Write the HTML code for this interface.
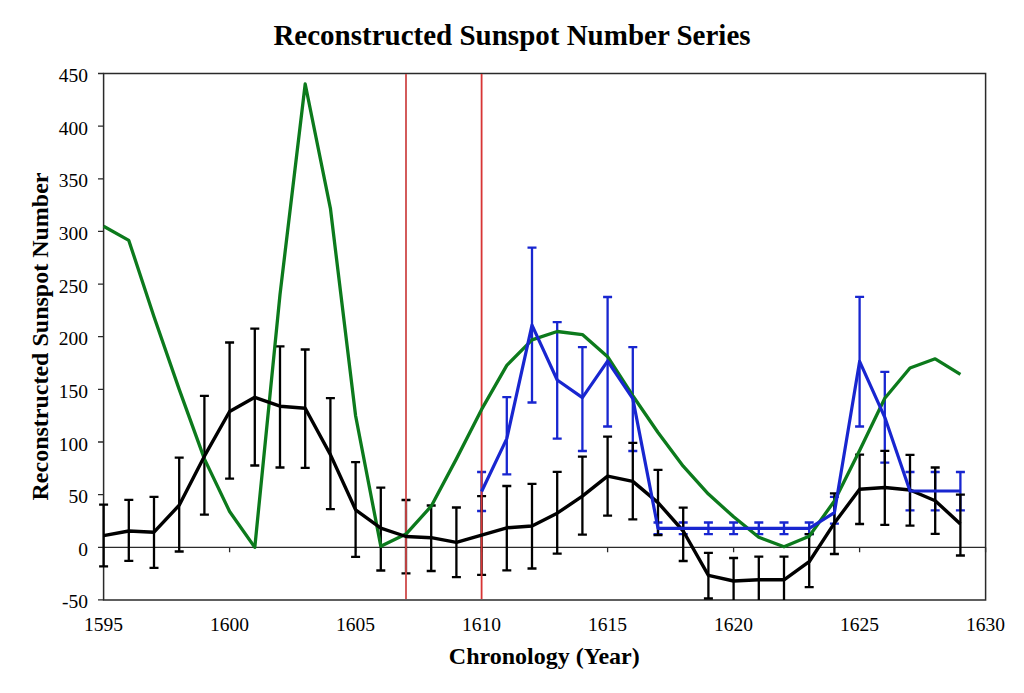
<!DOCTYPE html>
<html><head><meta charset="utf-8"><title>Reconstructed Sunspot Number Series</title>
<style>html,body{margin:0;padding:0;background:#fff;}svg{display:block;}body{width:1024px;height:693px;overflow:hidden;font-family:"Liberation Serif",serif;}</style>
</head><body>
<svg width="1024" height="693" viewBox="0 0 1024 693">
<defs><clipPath id="pc"><rect x="90" y="73.5" width="910" height="526.4"/></clipPath></defs>
<rect width="1024" height="693" fill="#fff"/>
<path d="M103.6,73.5H985.6V599.9H103.6Z" fill="none" stroke="#2a2a2a" stroke-width="1.5"/>
<path d="M98,599.9H103.6 M98,547.3H103.6 M98,494.7H103.6 M98,442.0H103.6 M98,389.4H103.6 M98,336.7H103.6 M98,284.1H103.6 M98,231.4H103.6 M98,178.8H103.6 M98,126.1H103.6 M98,73.5H103.6 M103.6,547.3H985.6 M229.6,547.3V552.3 M355.6,547.3V552.3 M481.6,547.3V552.3 M607.6,547.3V552.3 M733.6,547.3V552.3 M859.6,547.3V552.3 M985.6,547.3V552.3" fill="none" stroke="#2a2a2a" stroke-width="1.3"/>
<g clip-path="url(#pc)">
<path d="M481.6,472.0V511.0 M477.1,472.0H486.1 M477.1,511.0H486.1 M506.8,397.2V474.3 M502.3,397.2H511.3 M502.3,474.3H511.3 M532.0,247.6V402.5 M527.5,247.6H536.5 M527.5,402.5H536.5 M557.2,322.2V438.6 M552.7,322.2H561.7 M552.7,438.6H561.7 M582.4,347.2V451.0 M577.9,347.2H586.9 M577.9,451.0H586.9 M607.6,297.0V426.5 M603.1,297.0H612.1 M603.1,426.5H612.1 M632.8,347.2V451.0 M628.3,347.2H637.3 M628.3,451.0H637.3 M658.0,522.5V534.2 M653.5,522.5H662.5 M653.5,534.2H662.5 M683.2,522.5V534.2 M678.7,522.5H687.7 M678.7,534.2H687.7 M708.4,522.5V534.2 M703.9,522.5H712.9 M703.9,534.2H712.9 M733.6,522.5V534.2 M729.1,522.5H738.1 M729.1,534.2H738.1 M758.8,522.5V534.2 M754.3,522.5H763.3 M754.3,534.2H763.3 M784.0,522.5V534.2 M779.5,522.5H788.5 M779.5,534.2H788.5 M809.2,522.5V534.2 M804.7,522.5H813.7 M804.7,534.2H813.7 M834.4,496.8V523.6 M829.9,496.8H838.9 M829.9,523.6H838.9 M859.6,296.9V426.5 M855.1,296.9H864.1 M855.1,426.5H864.1 M884.8,371.9V462.6 M880.3,371.9H889.3 M880.3,462.6H889.3 M910.0,472.0V510.4 M905.5,472.0H914.5 M905.5,510.4H914.5 M935.2,472.0V510.4 M930.7,472.0H939.7 M930.7,510.4H939.7 M960.4,472.0V510.4 M955.9,472.0H964.9 M955.9,510.4H964.9" fill="none" stroke="#1826d0" stroke-width="2.3"/>
<path d="M103.6,504.7V566.3 M99.1,504.7H108.1 M99.1,566.3H108.1 M128.8,499.9V560.8 M124.3,499.9H133.3 M124.3,560.8H133.3 M154.0,496.8V567.8 M149.5,496.8H158.5 M149.5,567.8H158.5 M179.2,457.6V551.5 M174.7,457.6H183.7 M174.7,551.5H183.7 M204.4,395.9V514.7 M199.9,395.9H208.9 M199.9,514.7H208.9 M229.6,342.5V478.7 M225.1,342.5H234.1 M225.1,478.7H234.1 M254.8,328.7V465.5 M250.3,328.7H259.3 M250.3,465.5H259.3 M280.0,346.4V467.5 M275.5,346.4H284.5 M275.5,467.5H284.5 M305.2,349.5V467.9 M300.7,349.5H309.7 M300.7,467.9H309.7 M330.4,398.2V509.1 M325.9,398.2H334.9 M325.9,509.1H334.9 M355.6,462.2V556.9 M351.1,462.2H360.1 M351.1,556.9H360.1 M380.8,487.7V570.5 M376.3,487.7H385.3 M376.3,570.5H385.3 M406.0,500.0V573.3 M401.5,500.0H410.5 M401.5,573.3H410.5 M431.2,505.5V571.0 M426.7,505.5H435.7 M426.7,571.0H435.7 M456.4,507.5V577.2 M451.9,507.5H460.9 M451.9,577.2H460.9 M481.6,496.1V574.8 M477.1,496.1H486.1 M477.1,574.8H486.1 M506.8,486.0V570.4 M502.3,486.0H511.3 M502.3,570.4H511.3 M532.0,483.9V568.5 M527.5,483.9H536.5 M527.5,568.5H536.5 M557.2,471.8V553.7 M552.7,471.8H561.7 M552.7,553.7H561.7 M582.4,456.6V534.7 M577.9,456.6H586.9 M577.9,534.7H586.9 M607.6,436.7V515.6 M603.1,436.7H612.1 M603.1,515.6H612.1 M632.8,442.9V519.3 M628.3,442.9H637.3 M628.3,519.3H637.3 M658.0,469.9V535.1 M653.5,469.9H662.5 M653.5,535.1H662.5 M683.2,507.6V561.0 M678.7,507.6H687.7 M678.7,561.0H687.7 M708.4,552.9V598.5 M703.9,552.9H712.9 M703.9,598.5H712.9 M733.6,558.0V600.0 M729.1,558.0H738.1 M758.8,556.6V600.0 M754.3,556.6H763.3 M784.0,556.6V600.0 M779.5,556.6H788.5 M809.2,534.2V587.2 M804.7,534.2H813.7 M804.7,587.2H813.7 M834.4,493.4V554.0 M829.9,493.4H838.9 M829.9,554.0H838.9 M859.6,454.6V524.0 M855.1,454.6H864.1 M855.1,524.0H864.1 M884.8,450.9V524.8 M880.3,450.9H889.3 M880.3,524.8H889.3 M910.0,454.8V525.6 M905.5,454.8H914.5 M905.5,525.6H914.5 M935.2,467.5V533.9 M930.7,467.5H939.7 M930.7,533.9H939.7 M960.4,494.7V555.5 M955.9,494.7H964.9 M955.9,555.5H964.9" fill="none" stroke="#000" stroke-width="2.3"/>
<path d="M406.0,74V599" stroke="#cf4a4a" stroke-width="1.8"/>
<path d="M481.6,74V599" stroke="#d83434" stroke-width="1.8"/>
<polyline points="103.6,226.2 128.8,240.4 154.0,316.7 179.2,389.4 204.4,458.9 229.6,511.5 254.8,547.3 280.0,294.6 305.2,84.0 330.4,208.3 355.6,415.7 380.8,546.2 406.0,534.1 431.2,506.2 456.4,458.9 481.6,409.4 506.8,365.4 532.0,339.9 557.2,331.5 582.4,334.6 607.6,356.7 632.8,395.7 658.0,432.5 683.2,466.2 708.4,494.1 733.6,516.8 758.8,537.3 784.0,546.8 809.2,536.2 834.4,501.0 859.6,450.4 884.8,398.3 910.0,368.0 935.2,358.8 960.4,374.4" fill="none" stroke="#0c7a1c" stroke-width="3.3" stroke-linejoin="round"/>
<polyline points="103.6,535.7 128.8,531.0 154.0,532.2 179.2,505.2 204.4,456.2 229.6,411.5 254.8,397.3 280.0,406.2 305.2,408.3 330.4,454.6 355.6,509.8 380.8,528.1 406.0,536.5 431.2,537.7 456.4,542.4 481.6,535.2 506.8,527.8 532.0,526.0 557.2,513.2 582.4,496.2 607.6,476.1 632.8,481.4 658.0,502.6 683.2,531.0 708.4,575.3 733.6,581.0 758.8,579.8 784.0,579.8 809.2,561.7 834.4,523.1 859.6,489.2 884.8,487.5 910.0,490.0 935.2,500.7 960.4,524.0" fill="none" stroke="#000" stroke-width="3.4" stroke-linejoin="round"/>
<polyline points="481.6,491.5 506.8,438.6 532.0,325.1 557.2,380.0 582.4,397.6 607.6,361.1 632.8,398.6 658.0,528.3 683.2,528.3 708.4,528.3 733.6,528.3 758.8,528.3 784.0,528.3 809.2,528.3 834.4,512.6 859.6,361.4 884.8,417.3 910.0,491.0 935.2,491.0 960.4,491.0" fill="none" stroke="#1826d0" stroke-width="3.2" stroke-linejoin="round"/>
</g>
<g font-family="Liberation Serif" font-size="19.5" fill="#000"><text x="88" y="608.4" text-anchor="end">-50</text><text x="88" y="555.8" text-anchor="end">0</text><text x="88" y="503.2" text-anchor="end">50</text><text x="88" y="450.5" text-anchor="end">100</text><text x="88" y="397.9" text-anchor="end">150</text><text x="88" y="345.2" text-anchor="end">200</text><text x="88" y="292.6" text-anchor="end">250</text><text x="88" y="239.9" text-anchor="end">300</text><text x="88" y="187.3" text-anchor="end">350</text><text x="88" y="134.6" text-anchor="end">400</text><text x="88" y="82.0" text-anchor="end">450</text><text x="103.6" y="631.3" text-anchor="middle">1595</text><text x="229.6" y="631.3" text-anchor="middle">1600</text><text x="355.6" y="631.3" text-anchor="middle">1605</text><text x="481.6" y="631.3" text-anchor="middle">1610</text><text x="607.6" y="631.3" text-anchor="middle">1615</text><text x="733.6" y="631.3" text-anchor="middle">1620</text><text x="859.6" y="631.3" text-anchor="middle">1625</text><text x="985.6" y="631.3" text-anchor="middle">1630</text></g>
<text x="512" y="44.7" text-anchor="middle" font-family="Liberation Serif" font-weight="bold" font-size="29" fill="#000">Reconstructed Sunspot Number Series</text>
<text x="544.3" y="663.9" text-anchor="middle" font-family="Liberation Serif" font-weight="bold" font-size="24" fill="#000">Chronology (Year)</text>
<text transform="translate(47.5,336.5) rotate(-90)" x="0" y="0" text-anchor="middle" font-family="Liberation Serif" font-weight="bold" font-size="24" fill="#000">Reconstructed Sunspot Number</text>
</svg>
</body></html>
